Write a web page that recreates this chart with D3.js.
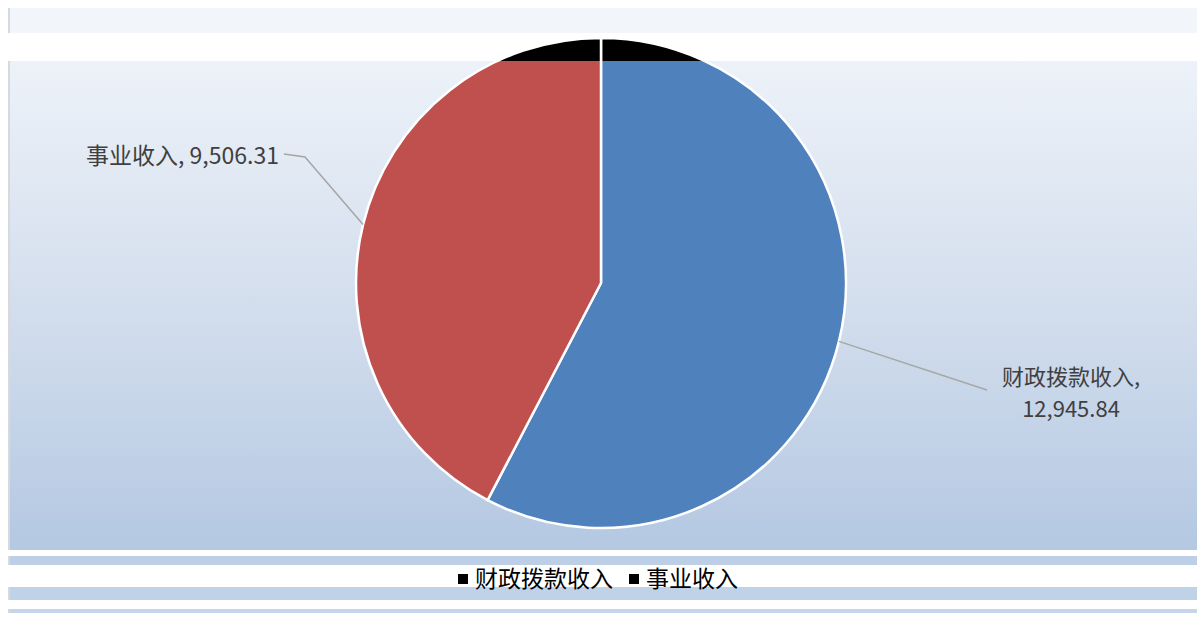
<!DOCTYPE html>
<html>
<head>
<meta charset="utf-8">
<script src="https://cdn.jsdelivr.net/npm/d3@7"></script>
<style>
  body { margin: 0; background: #fff; }
  text { font-family: "Noto Sans CJK SC", "Noto Sans", sans-serif; fill: #404040; }
</style>
</head>
<body>
<div id="chart"></div>
<script>
// data
const categories = ["财政拨款收入", "事业收入"];
const values = [12945.84, 9506.31];
const colors = ["#4f81bd", "#c0504d"];

const W = 1199, H = 617;
const cx = 601, cy = 283, R = 245;

const svg = d3.select("#chart").append("svg")
    .attr("width", W).attr("height", H);

const defs = svg.append("defs");
const grad = defs.append("linearGradient")
    .attr("id", "bg").attr("x1", 0).attr("y1", 0).attr("x2", 0).attr("y2", 1);
grad.append("stop").attr("offset", "0%").attr("stop-color", "#edf2f9");
grad.append("stop").attr("offset", "50%").attr("stop-color", "#d3deed");
grad.append("stop").attr("offset", "100%").attr("stop-color", "#b4c8e2");

// background bands
svg.append("rect").attr("x", 8).attr("y", 8).attr("width", 1189).attr("height", 25).attr("fill", "#f2f6fa");
svg.append("rect").attr("x", 8).attr("y", 61).attr("width", 1189).attr("height", 489).attr("fill", "url(#bg)");
svg.append("rect").attr("x", 8).attr("y", 556).attr("width", 1189).attr("height", 9).attr("fill", "#bccfe6");
svg.append("rect").attr("x", 8).attr("y", 587).attr("width", 1189).attr("height", 13).attr("fill", "#c0d2e8");
svg.append("rect").attr("x", 8).attr("y", 609).attr("width", 1189).attr("height", 4).attr("fill", "#c5d6ea");
// thin left border
[[8, 33], [61, 550], [556, 565], [587, 600], [609, 613]].forEach(([a, b]) => {
  svg.append("rect").attr("x", 8).attr("y", a).attr("width", 2).attr("height", b - a).attr("fill", "#d6d9de");
});

// pie
const pie = d3.pie().sort(null).value(d => d)(values);
const arc = d3.arc().innerRadius(0).outerRadius(R);

const g = svg.append("g").attr("transform", `translate(${cx},${cy})`);
g.selectAll("path.slice")
  .data(pie)
  .enter().append("path")
  .attr("class", "slice")
  .attr("d", arc)
  .attr("fill", (d, i) => colors[i])
  .attr("stroke", "#fff")
  .attr("stroke-width", 2.5);

// black top cap (the part of the pie above the plot area)
defs.append("clipPath").attr("id", "cap")
  .append("rect").attr("x", -cx).attr("y", -cy).attr("width", W).attr("height", 61);
g.append("g").attr("clip-path", "url(#cap)")
  .selectAll("path")
  .data(pie)
  .enter().append("path")
  .attr("d", arc)
  .attr("fill", "#000")
  .attr("stroke", "#fff")
  .attr("stroke-width", 2.5);

// leader lines and labels
const mid = d => (d.startAngle + d.endAngle) / 2;
const edge = d => [R * Math.sin(mid(d)), -R * Math.cos(mid(d))];
const fmt = d3.format(",.2f");

// 事业收入 (left)
{
  const d = pie[1];
  const p = edge(d);
  g.append("polyline")
    .attr("points", [p, [-296, -126], [-317, -129]].map(q => q.join(",")).join(" "))
    .attr("fill", "none").attr("stroke", "#a6a6a6").attr("stroke-width", 1.5);
  g.append("text")
    .attr("x", -322).attr("y", -119)
    .attr("text-anchor", "end")
    .style("font-size", "23px")
    .text(`${categories[1]}, ${fmt(values[1])}`);
}
// 财政拨款收入 (right)
{
  const d = pie[0];
  const p = edge(d);
  g.append("polyline")
    .attr("points", [p, [386, 107]].map(q => q.join(",")).join(" "))
    .attr("fill", "none").attr("stroke", "#a6a6a6").attr("stroke-width", 1.5);
  g.append("text").attr("text-anchor", "middle").style("font-size", "22px")
    .attr("x", 470).attr("y", 102).text(`${categories[0]},`);
  g.append("text").attr("text-anchor", "middle").style("font-size", "22px")
    .attr("x", 470).attr("y", 134).text(fmt(values[0]));
}

// legend
const legend = svg.append("g");
const items = legend.selectAll("g").data(categories).enter().append("g");
let lx = 458;
items.each(function (c, i) {
  const it = d3.select(this);
  it.append("rect").attr("x", lx).attr("y", 574).attr("width", 10).attr("height", 10).attr("fill", "#000");
  const tx = it.append("text").attr("x", lx + 17).attr("y", 587).style("font-size", "23px").style("fill", "#000").text(c);
  lx += 17 + tx.node().getComputedTextLength() + 16;
});
</script>
</body>
</html>
